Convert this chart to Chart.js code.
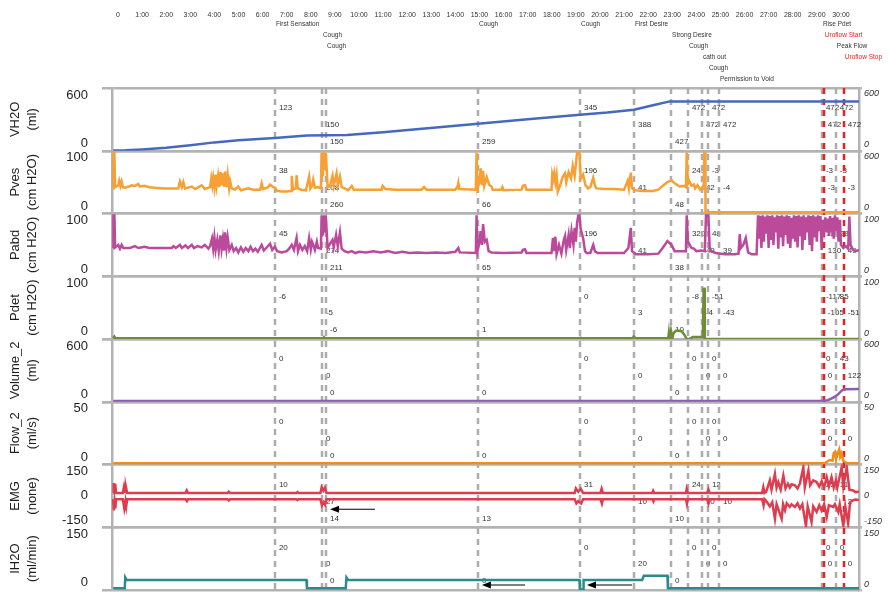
<!DOCTYPE html>
<html>
<head>
<meta charset="utf-8">
<script src="https://cdn.jsdelivr.net/npm/chart.js@4.4.1/dist/chart.umd.min.js"></script>
<style>
  html, body { margin: 0; padding: 0; background: #fff; }
  #wrap { width: 889px; height: 592px; position: relative; }
</style>
</head>
<body>
<div id="wrap"><canvas id="myChart"></canvas></div>
<script>
// ---- axes ----
const channels = ["VH2O", "Pves", "Pabd", "Pdet", "Volume_2", "Flow_2", "EMG", "IH2O"];
const units = ["(ml)", "(cm H2O)", "(cm H2O)", "(cm H2O)", "(ml)", "(ml/s)", "(none)", "(ml/min)"];
const axisMin = [0, 0, 0, 0, 0, 0, -150, 0];
const axisMax = [600, 100, 100, 100, 600, 50, 150, 150];
const tickValues = [[0, 600], [0, 100], [0, 100], [0, 100], [0, 600], [0, 50], [-150, 0, 150], [0, 150]];
const leftTickText = [["0", "600"], ["0", "100"], ["0", "100"], ["0", "100"], ["0", "600"], ["0", "50"], ["-150", "0", "150"], ["0", "150"]];
const rightTickText = [["0", "600"], ["0", "600"], ["0", "100"], ["0", "100"], ["0", "600"], ["0", "50"], ["-150", "0", "150"], ["0", "150"]];

const minuteTicks = [0, 1, 2, 3, 4, 5, 6, 7, 8, 9, 10, 11, 12, 13, 14, 15, 16, 17, 18, 19, 20, 21, 22, 23, 24, 25, 26, 27, 28, 29, 30];
const minuteLabels = ["0", "1:00", "2:00", "3:00", "4:00", "5:00", "6:00", "7:00", "8:00", "9:00", "10:00",
  "11:00", "12:00", "13:00", "14:00", "15:00", "16:00", "17:00", "18:00", "19:00", "20:00",
  "21:00", "22:00", "23:00", "24:00", "25:00", "26:00", "27:00", "28:00", "29:00", "30:00"];

// ---- events (minutes) ----
const eventTimes = [6.51, 8.46, 8.63, 14.94, 19.17, 21.41, 22.95, 23.65, 24.23, 24.48, 24.94, 29.21, 29.29, 29.79, 30.12];
const eventNames = ["First Sensation", "Cough", "Cough", "Cough", "Cough", "First Desire", "Strong Desire", "Cough",
  "cath out", "Cough", "Permission to Void", "Rise Pdet", "Uroflow Start", "Peak Flow", "Uroflow Stop"];
const eventIsFlow = [false, false, false, false, false, false, false, false, false, false, false, false, true, false, true];

const vh2oAt = [123, 150, 150, 259, 345, 388, 427, 472, 472, 472, 472, 472, 472, 472, 472];
const pvesAt = [38, 208, 260, 66, 196, 41, 48, 249, 42, -3, -4, -3, -3, -3, -3];
const pabdAt = [45, 274, 211, 65, 196, 41, 38, 320, 49, 48, 39, 114, 130, 28, 49];
const pdetAt = [-6, -5, -6, 1, 0, 3, 10, -8, -4, -51, -43, -117, -105, 85, -51];
const volAt = [0, 0, 0, 0, 0, 0, 0, 0, 0, 0, 0, 0, 0, 43, 122];
const flowAt = [0, 0, 0, 0, 0, 0, 0, 0, 0, 0, 0, 0, 0, 8, 0];
const emgAt = [10, 27, 14, 13, 31, 10, 10, 24, 10, 12, 10, 25, null, 11, 2];
const ih2oAt = [20, 0, 0, 0, 0, 20, 0, 0, 0, 0, 0, 0, 0, 0, 0];
const valuesAtEvents = [vh2oAt, pvesAt, pabdAt, pdetAt, volAt, flowAt, emgAt, ih2oAt];

// ---- traces [minute, value] ----
const vh2oPts = [[-0.2, 3], [0.3, 4], [1, 12], [2, 28], [3, 52], [4, 80], [5, 100], [6.51, 123], [7.84, 146], [9.5, 150],
  [11, 178], [12.5, 208], [14.94, 259], [17, 302], [19.17, 345], [20.3, 365], [21.41, 392], [22.2, 435], [22.9, 472], [30.75, 472]];

const pvesPts = [[-0.2, 40], [-0.19, 97], [-0.15, 97], [-0.12, 42], [0.01, 45], [0.05, 52], [0.1, 44], [0.15, 51], [0.2, 42],
  [0.29, 41], [0.45, 43], [0.57, 45], [0.7, 44], [0.84, 47], [0.9, 43], [1.1, 44], [1.3, 42], [1.53, 41], [1.9, 40], [2.23, 40],
  [2.5, 40], [2.57, 51], [2.65, 42], [2.71, 50], [2.78, 40], [3.06, 43], [3.2, 39], [3.47, 45], [3.6, 39], [3.82, 42], [3.87, 56],
  [3.91, 45], [3.95, 57], [4.0, 42], [4.05, 62], [4.09, 44], [4.15, 60], [4.2, 42], [4.25, 66], [4.3, 45], [4.35, 64], [4.4, 43],
  [4.44, 67], [4.5, 42], [4.55, 62], [4.61, 41], [4.65, 52], [4.72, 40], [4.85, 38], [4.99, 43], [5.1, 37], [5.41, 40], [5.6, 38],
  [5.9, 38], [5.96, 48], [6.02, 39], [6.2, 41], [6.31, 46], [6.4, 43], [6.51, 41], [6.6, 36], [6.79, 35], [7.0, 35], [7.18, 36],
  [7.21, 60], [7.26, 38], [7.38, 40], [7.41, 61], [7.46, 40], [7.6, 38], [7.8, 37], [7.93, 59], [7.98, 40], [8.05, 44], [8.1, 54],
  [8.17, 41], [8.3, 42], [8.42, 40], [8.45, 97], [8.5, 60], [8.54, 97], [8.58, 70], [8.62, 97], [8.7, 42], [8.8, 45], [8.9, 60],
  [8.95, 44], [9.07, 64], [9.12, 45], [9.21, 59], [9.28, 42], [9.4, 40], [9.55, 37], [9.7, 44], [9.78, 38], [9.97, 38], [10.5, 38],
  [10.94, 38], [10.98, 44], [11.1, 39], [11.5, 38], [12.32, 38], [12.6, 38], [12.7, 42], [12.8, 38], [13.5, 38], [14.0, 38],
  [14.1, 44], [14.12, 48], [14.15, 39], [14.85, 38], [14.88, 97], [14.92, 40], [15.0, 50], [15.05, 72], [15.1, 45], [15.15, 68],
  [15.2, 44], [15.3, 58], [15.4, 46], [15.5, 43], [15.55, 38], [15.9, 38], [15.95, 42], [16.0, 37], [16.75, 38], [16.8, 44],
  [16.89, 45], [16.95, 38], [17.99, 38], [18.02, 62], [18.06, 55], [18.1, 64], [18.15, 50], [18.2, 62], [18.25, 35], [18.35, 45],
  [18.45, 58], [18.55, 64], [18.6, 50], [18.7, 66], [18.8, 56], [18.87, 76], [18.95, 60], [19.05, 97], [19.15, 97], [19.2, 55],
  [19.3, 62], [19.4, 45], [19.45, 43], [19.5, 40], [19.6, 42], [19.72, 57], [19.79, 45], [19.85, 40], [20.2, 39], [20.6, 39],
  [21.0, 38], [21.15, 52], [21.2, 40], [21.28, 65], [21.33, 40], [21.45, 37], [21.8, 36], [22.2, 36], [22.42, 38], [22.6, 44],
  [22.8, 50], [22.97, 53], [23.1, 48], [23.3, 43], [23.5, 44], [23.57, 42], [23.6, 97], [23.65, 48], [23.7, 52], [23.8, 44],
  [23.9, 46], [23.95, 40], [24.05, 45], [24.15, 38], [24.25, 42], [24.3, 40], [24.33, 97], [24.37, 97], [24.38, 2], [30.75, 2]];

const pabdPts = [[-0.2, 45], [-0.19, 97], [-0.15, 97], [-0.12, 46], [0.01, 50], [0.08, 44], [0.15, 50], [0.22, 45], [0.5, 45],
  [0.7, 48], [0.85, 45], [1.1, 47], [1.3, 45], [1.53, 45], [2.23, 45], [2.3, 48], [2.4, 45], [2.57, 50], [2.65, 45], [2.8, 49],
  [2.9, 45], [3.06, 50], [3.15, 45], [3.3, 48], [3.47, 46], [3.6, 50], [3.75, 44], [3.82, 48], [3.9, 60], [3.95, 44], [4.0, 62],
  [4.05, 42], [4.12, 58], [4.18, 40], [4.25, 65], [4.3, 44], [4.35, 59], [4.4, 41], [4.44, 70], [4.5, 45], [4.55, 62], [4.62, 42],
  [4.72, 50], [4.8, 40], [4.9, 45], [4.99, 38], [5.1, 46], [5.2, 39], [5.3, 45], [5.41, 40], [5.5, 47], [5.6, 40], [5.7, 44],
  [5.8, 39], [5.96, 50], [6.05, 41], [6.15, 45], [6.31, 52], [6.4, 42], [6.51, 47], [6.6, 40], [6.79, 38], [7.0, 40], [7.1, 44],
  [7.21, 50], [7.3, 42], [7.41, 61], [7.47, 40], [7.55, 50], [7.65, 42], [7.75, 48], [7.85, 40], [7.93, 61], [8.0, 43], [8.05, 55],
  [8.1, 50], [8.17, 42], [8.25, 55], [8.3, 45], [8.42, 44], [8.45, 97], [8.5, 65], [8.54, 97], [8.58, 70], [8.62, 97], [8.7, 45],
  [8.8, 52], [8.9, 58], [8.95, 46], [9.05, 66], [9.12, 48], [9.21, 70], [9.28, 44], [9.4, 40], [9.55, 38], [9.7, 40], [9.85, 37],
  [10.0, 39], [10.3, 38], [10.6, 40], [10.9, 38], [11.2, 40], [11.5, 37], [11.8, 39], [12.1, 37], [12.4, 38], [12.8, 37],
  [13.2, 38], [13.6, 37], [14.0, 39], [14.12, 45], [14.18, 38], [14.85, 37], [14.88, 97], [14.92, 40], [15.0, 55], [15.05, 72],
  [15.1, 50], [15.15, 83], [15.22, 55], [15.3, 58], [15.38, 40], [15.5, 38], [16.0, 37], [16.75, 38], [16.8, 42], [16.89, 43],
  [16.95, 37], [17.99, 37], [18.05, 61], [18.1, 40], [18.15, 63], [18.2, 35], [18.3, 50], [18.4, 36], [18.5, 58], [18.55, 64],
  [18.6, 42], [18.7, 66], [18.75, 45], [18.82, 72], [18.9, 50], [18.95, 77], [19.0, 55], [19.05, 85], [19.1, 97], [19.15, 97],
  [19.2, 75], [19.3, 61], [19.38, 40], [19.45, 37], [19.6, 37], [19.72, 50], [19.79, 40], [19.9, 37], [20.6, 37], [21.0, 37],
  [21.18, 45], [21.28, 77], [21.33, 40], [21.5, 35], [22.0, 35], [22.42, 36], [22.6, 45], [22.8, 56], [22.97, 50], [23.1, 40],
  [23.3, 40], [23.5, 40], [23.57, 40], [23.6, 97], [23.65, 55], [23.8, 45], [23.9, 44], [24.0, 40], [24.2, 41], [24.35, 40],
  [24.4, 97], [24.5, 97], [24.55, 47], [24.6, 40], [24.8, 37], [25.2, 35], [25.6, 35], [25.75, 36], [25.8, 67], [25.85, 45],
  [25.95, 50], [26.05, 61], [26.15, 38], [26.3, 35], [26.5, 35], [26.56, 97], [26.6, 60], [26.65, 96], [26.7, 45], [26.75, 97],
  [26.8, 55], [26.85, 95], [26.9, 68], [26.95, 97], [27.0, 45], [27.05, 96], [27.1, 58], [27.15, 97], [27.2, 50], [27.25, 94],
  [27.3, 70], [27.35, 97], [27.4, 44], [27.45, 96], [27.5, 62], [27.55, 97], [27.6, 48], [27.65, 95], [27.7, 66], [27.75, 97],
  [27.8, 52], [27.85, 96], [27.9, 45], [27.95, 93], [28.0, 60], [28.05, 97], [28.1, 55], [28.15, 96], [28.2, 46], [28.25, 97],
  [28.3, 64], [28.35, 95], [28.4, 42], [28.45, 97], [28.5, 58], [28.55, 94], [28.6, 70], [28.65, 97], [28.7, 50], [28.75, 96],
  [28.8, 40], [28.85, 97], [28.9, 62], [28.95, 95], [29.0, 55], [29.05, 97], [29.1, 72], [29.15, 96], [29.2, 42], [29.25, 90],
  [29.3, 75], [29.35, 94], [29.4, 70], [29.45, 92], [29.5, 65], [29.55, 96], [29.6, 78], [29.65, 93], [29.7, 60], [29.75, 97],
  [29.8, 72], [29.85, 94], [29.9, 55], [29.96, 90], [30.0, 50], [30.1, 45], [30.2, 48], [30.3, 44], [30.35, 95], [30.4, 50],
  [30.5, 42], [30.6, 40], [30.75, 42]];

const pdetPts = [[-0.2, 1], [-0.15, 4], [-0.1, 1], [8.5, 1], [8.55, 3], [8.6, 1], [14.9, 1], [14.95, 2], [15.0, 1], [19.1, 1],
  [19.2, 2], [19.3, 1], [21.35, 1], [21.4, 4], [21.5, 1], [22.78, 1], [22.82, -3], [22.86, 10], [22.9, -4], [22.95, 12], [23.0, 0],
  [23.05, 9], [23.15, 13], [23.3, 13], [23.4, 12], [23.53, 5], [23.6, 0], [23.7, 0], [23.85, 3], [24.27, 3], [24.3, 80],
  [24.34, 80], [24.35, 0], [30.75, 0]];

const volPts = [[-0.2, 8], [29.2, 8], [29.45, 15], [29.6, 30], [29.75, 48], [29.9, 75], [30.05, 110], [30.15, 120], [30.75, 122]];

const flowPts = [[-0.2, 1], [29.35, 1], [29.4, 2], [29.54, 3.5], [29.65, 3], [29.7, 9], [29.75, 10], [29.8, 4], [29.85, 8],
  [29.93, 12], [29.97, 6], [30.03, 9], [30.1, 3], [30.24, 1], [30.75, 1]];

const emgHighPts = [[-0.2, 14], [-0.18, 61], [-0.15, 20], [-0.12, 58], [-0.08, 14], [0.2, 14], [0.25, 45], [0.3, 20], [0.33, 42],
  [0.38, 14], [2.8, 14], [2.85, 26], [2.9, 14], [4.55, 14], [4.6, 20], [4.65, 14], [7.4, 14], [7.45, 18], [7.5, 14], [8.4, 14],
  [8.45, 40], [8.52, 25], [8.58, 38], [8.65, 14], [18.95, 14], [19.0, 36], [19.1, 20], [19.2, 34], [19.3, 14], [20.02, 14],
  [20.07, 34], [20.12, 14], [22.18, 14], [22.21, 24], [22.25, 14], [23.57, 14], [23.6, 34], [23.65, 14], [24.45, 14], [24.5, 30],
  [24.55, 14], [26.73, 14], [26.78, 42], [26.83, 14], [26.9, 20], [27.05, 74], [27.12, 30], [27.26, 105], [27.33, 40], [27.4, 66],
  [27.5, 30], [27.61, 97], [27.7, 35], [27.8, 58], [27.88, 40], [27.95, 55], [28.09, 50], [28.2, 35], [28.3, 60], [28.44, 137],
  [28.5, 40], [28.65, 121], [28.72, 50], [28.85, 74], [28.99, 66], [29.1, 45], [29.2, 70], [29.3, 40], [29.41, 89], [29.5, 45],
  [29.61, 89], [29.7, 40], [29.79, 74], [29.85, 40], [30.03, 137], [30.1, 45], [30.24, 137], [30.35, 30], [30.51, 26], [30.6, 18],
  [30.75, 20]];

const emgLowPts = [[-0.2, -16], [-0.17, -69], [-0.14, -30], [-0.11, -60], [-0.08, -16], [0.2, -16], [0.26, -60], [0.31, -25],
  [0.34, -50], [0.38, -16], [2.8, -16], [2.86, -25], [2.9, -16], [4.55, -16], [4.6, -22], [4.65, -16], [7.4, -16], [7.45, -20],
  [7.5, -16], [8.4, -16], [8.46, -45], [8.53, -30], [8.59, -42], [8.65, -16], [18.95, -16], [19.02, -36], [19.1, -25], [19.22, -36],
  [19.3, -16], [20.02, -16], [20.08, -37], [20.12, -16], [22.18, -16], [22.22, -26], [22.25, -16], [23.57, -16], [23.61, -38],
  [23.65, -16], [24.45, -16], [24.5, -37], [24.55, -16], [26.73, -16], [26.79, -45], [26.83, -16], [26.9, -25], [27.05, -50],
  [27.15, -30], [27.26, -109], [27.33, -40], [27.54, -109], [27.6, -40], [27.68, -69], [27.75, -35], [27.88, -53], [27.95, -40],
  [28.09, -53], [28.2, -35], [28.3, -60], [28.4, -40], [28.55, -145], [28.62, -50], [28.78, -125], [28.85, -50], [28.99, -77],
  [29.1, -45], [29.2, -70], [29.3, -40], [29.41, -101], [29.5, -45], [29.68, -53], [29.75, -40], [29.89, -77], [29.95, -40],
  [30.1, -145], [30.18, -50], [30.3, -132], [30.38, -30], [30.51, -21], [30.6, -18], [30.75, -20]];

const ih2oPts = [[-0.2, 4], [0.28, 4], [0.3, 30], [0.36, 24], [7.82, 24], [7.84, 4], [9.45, 4], [9.48, 30], [9.55, 24],
  [19.15, 24], [19.17, 1], [19.3, 1], [19.32, 24], [21.75, 24], [21.82, 34], [22.8, 34], [22.82, 4], [30.75, 4]];

// annotation arrows: panel, tail minute, head minute, level
const arrowPanel = [6, 7, 7];
const arrowFrom = [10.66, 16.89, 21.33];
const arrowTo = [8.8, 15.1, 19.46];
const arrowLevel = [-64, 12, 12];

// ---- layout / style ----
const eventRow = [1, 2, 3, 1, 1, 1, 2, 3, 4, 5, 6, 1, 2, 3, 4];
const valueRow = [1, 2, 3, 3, 1, 2, 3, 1, 2, 1, 2, 1, 2, 1, 2];
const FONT = "'Liberation Sans', Arial, Helvetica, sans-serif";
const GRAY = "#b3b3b3";
const RED = "#e8231f";

function series(pts) {
  return pts.map(p => ({x: p[0], y: p[1]}));
}

function edgeLabel(texts, i, n) {
  if (n > 1 && i === n - 1) return ["", texts[i]];
  if (i === 0) return [texts[i], ""];
  return texts[i];
}

function noPad(s) {
  s.paddingTop = 0;
  s.paddingBottom = 0;
  s.paddingLeft = 0;
  s.paddingRight = 0;
}

const scales = {
  x: {
    type: "linear",
    position: "top",
    min: -0.25,
    max: 30.75,
    afterBuildTicks: s => { s.ticks = minuteTicks.map(v => ({value: v})); },
    afterFit: s => { s.height = 88; noPad(s); },
    grid: {display: false, drawTicks: false},
    border: {display: false},
    ticks: {autoSkip: false, maxRotation: 0, padding: 69, color: "#333", font: {size: 7, family: FONT},
      callback: (v, i) => minuteLabels[i]},
  },
};

channels.forEach((name, c) => {
  const isEdge = ctx => ctx.tick && (ctx.tick.value === axisMin[c] || ctx.tick.value === axisMax[c]);
  scales["l" + c] = {
    type: "linear",
    position: "left",
    stack: "left",
    stackWeight: 1,
    weight: 8 - c,
    min: axisMin[c],
    max: axisMax[c],
    afterBuildTicks: s => { s.ticks = tickValues[c].map(v => ({value: v})); },
    afterFit: s => { s.width = 112; noPad(s); },
    title: {display: true, text: [name, units[c]], color: "#1e1e1e",
      font: {size: 13, lineHeight: 1.38, family: FONT}, padding: {top: 6, bottom: 0}},
    ticks: {autoSkip: false, padding: 14, color: "#1e1e1e", font: {size: 13, lineHeight: 1.1, family: FONT},
      callback: (v, i) => edgeLabel(leftTickText[c], i, tickValues[c].length)},
    grid: {color: ctx => isEdge(ctx) ? GRAY : "rgba(0,0,0,0)", lineWidth: 2.5, tickLength: 10},
    border: {display: true, color: GRAY, width: 2.5},
  };
  scales["r" + c] = {
    type: "linear",
    position: "right",
    stack: "right",
    stackWeight: 1,
    weight: c + 1,
    min: axisMin[c],
    max: axisMax[c],
    afterBuildTicks: s => { s.ticks = tickValues[c].map(v => ({value: v})); },
    afterFit: s => { s.width = 30; noPad(s); },
    ticks: {autoSkip: false, padding: 2, color: "#333", font: {size: 9, style: "italic", lineHeight: 1.3, family: FONT},
      callback: (v, i) => edgeLabel(rightTickText[c], i, tickValues[c].length)},
    grid: {color: ctx => isEdge(ctx) ? GRAY : "rgba(0,0,0,0)", lineWidth: 2.5, tickLength: 3, drawOnChartArea: false},
    border: {display: true, color: GRAY, width: 2.5},
  };
});

function line(pts, axis, color) {
  return {data: series(pts), xAxisID: "x", yAxisID: axis, borderColor: color, borderWidth: 2.5,
    pointRadius: 0, tension: 0, fill: false};
}

const clipPanels = {
  id: "clipPanels",
  beforeDatasetDraw(chart, args) {
    const ys = chart.scales[args.meta.yAxisID];
    const a = chart.chartArea;
    chart.ctx.save();
    chart.ctx.beginPath();
    chart.ctx.rect(a.left, ys.top - 1, a.right - a.left, ys.bottom - ys.top + 2);
    chart.ctx.clip();
  },
  afterDatasetDraw(chart) {
    chart.ctx.restore();
  },
};

const overlay = {
  id: "overlay",
  beforeDatasetsDraw(chart) {
    const {ctx, chartArea, scales: sc} = chart;
    ctx.save();
    ctx.font = "8px " + FONT;
    ctx.fillStyle = "#333";
    ctx.textBaseline = "middle";
    ctx.textAlign = "left";
    channels.forEach((name, c) => {
      const ys = sc["l" + c];
      const h = ys.bottom - ys.top;
      eventTimes.forEach((t, i) => {
        const v = valuesAtEvents[c][i];
        if (v === null) return;
        ctx.fillText(String(v), sc.x.getPixelForValue(t) + 4, ys.top + h * (0.05 + 0.27 * valueRow[i]));
      });
    });
    ctx.lineWidth = 2.5;
    ctx.setLineDash([6, 5]);
    eventTimes.forEach((t, i) => {
      const px = Math.round(sc.x.getPixelForValue(t));
      ctx.strokeStyle = eventIsFlow[i] ? RED : "#adadad";
      ctx.beginPath();
      ctx.moveTo(px, chartArea.top);
      ctx.lineTo(px, chartArea.bottom);
      ctx.stroke();
    });
    ctx.restore();
  },
  afterDatasetsDraw(chart) {
    const {ctx, scales: sc} = chart;
    ctx.save();
    ctx.strokeStyle = "#000";
    ctx.fillStyle = "#000";
    ctx.lineWidth = 1.2;
    arrowPanel.forEach((p, i) => {
      const y = sc["l" + p].getPixelForValue(arrowLevel[i]);
      const x0 = sc.x.getPixelForValue(arrowFrom[i]);
      const x1 = sc.x.getPixelForValue(arrowTo[i]);
      ctx.beginPath();
      ctx.moveTo(x0, y);
      ctx.lineTo(x1 + 6, y);
      ctx.stroke();
      ctx.beginPath();
      ctx.moveTo(x1, y);
      ctx.lineTo(x1 + 9, y - 3.5);
      ctx.lineTo(x1 + 9, y + 3.5);
      ctx.closePath();
      ctx.fill();
    });
    ctx.restore();
  },
  afterDraw(chart) {
    const {ctx, chartArea, scales: sc} = chart;
    ctx.save();
    ctx.font = "6.5px " + FONT;
    ctx.textBaseline = "middle";
    ctx.textAlign = "left";
    eventNames.forEach((name, i) => {
      ctx.fillStyle = eventIsFlow[i] ? RED : "#333";
      ctx.fillText(name, sc.x.getPixelForValue(eventTimes[i]) + 1, chartArea.top - 64 + 11 * (eventRow[i] - 1));
    });
    ctx.restore();
  },
};

new Chart(document.getElementById("myChart"), {
  type: "line",
  data: {
    datasets: [
      line(vh2oPts, "l0", "#4668bd"),
      line(pvesPts, "l1", "#f7a035"),
      line(pabdPts, "l2", "#bc4a9b"),
      line(pdetPts, "l3", "#6f8c3a"),
      line(volPts, "l4", "#8e5db0"),
      line(flowPts, "l5", "#f28c18"),
      line(emgHighPts, "l6", "#dc3d4f"),
      line(emgLowPts, "l6", "#dc3d4f"),
      line(ih2oPts, "l7", "#2b8a8c"),
    ],
  },
  options: {
    responsive: true,
    maintainAspectRatio: false,
    animation: false,
    layout: {padding: {left: 0, right: 0, top: 0, bottom: 2}},
    plugins: {legend: {display: false}, tooltip: {enabled: false}},
    scales: scales,
  },
  plugins: [clipPanels, overlay],
});
</script>
</body>
</html>
